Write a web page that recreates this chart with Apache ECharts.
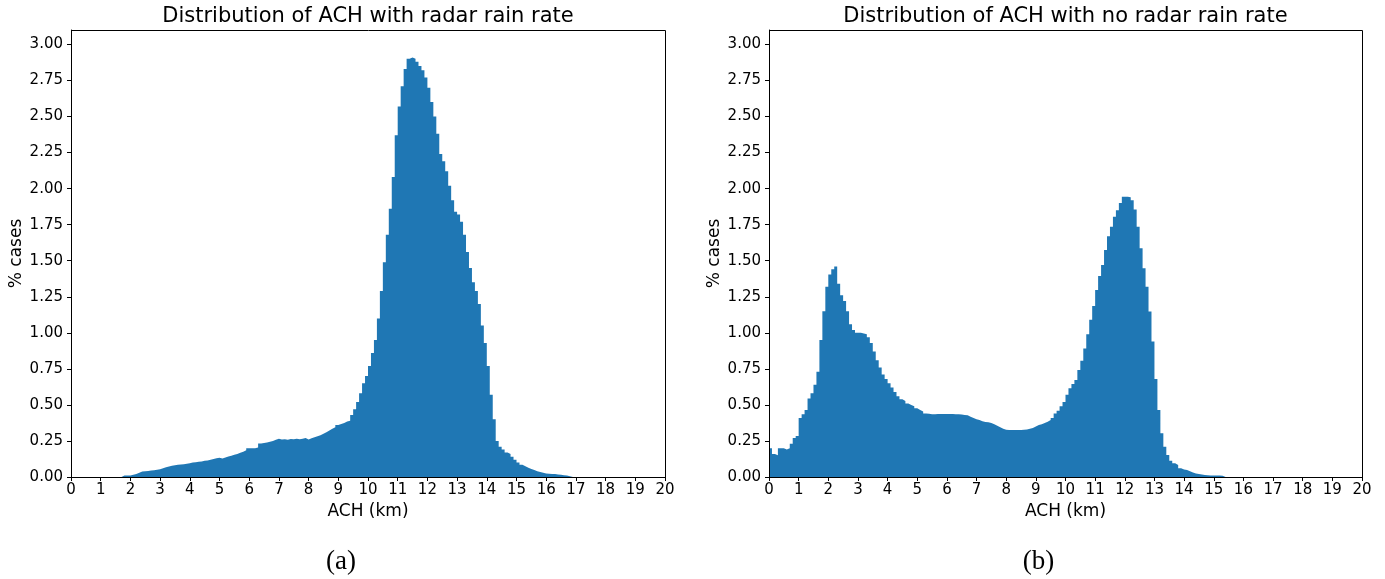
<!DOCTYPE html>
<html>
<head>
<meta charset="utf-8">
<title>ACH distribution</title>
<script src="https://cdn.jsdelivr.net/npm/echarts@6/dist/echarts.min.js"></script>
<style>
  html, body { margin: 0; padding: 0; background: #fff; }
  #chart { width: 1385px; height: 579px; }
</style>
</head>
<body>
<div id="chart"></div>
<script>
// bin width 0.1 km, 200 bins from 0 to 20 km, values in % cases
const binWidth = 0.1;

const withRadar = [
  0, 0, 0, 0, 0, 0, 0, 0, 0, 0,                                            // 0-1
  0, 0, 0, 0, 0, 0, 0, 0.01, 0.01, 0.01,                                   // 1-2
  0.015, 0.02, 0.03, 0.038, 0.04, 0.042, 0.045, 0.047, 0.05, 0.053,        // 2-3
  0.06, 0.068, 0.072, 0.078, 0.082, 0.085, 0.087, 0.089, 0.092, 0.096,     // 3-4
  0.1, 0.102, 0.105, 0.108, 0.112, 0.115, 0.12, 0.124, 0.13, 0.133,        // 4-5
  0.128, 0.135, 0.142, 0.148, 0.155, 0.16, 0.168, 0.175, 0.185, 0.2,       // 5-6
  0.2, 0.2, 0.205, 0.232, 0.236, 0.24, 0.245, 0.25, 0.258, 0.265,          // 6-7
  0.26, 0.262, 0.258, 0.264, 0.262, 0.265, 0.262, 0.266, 0.27, 0.26,       // 7-8
  0.268, 0.275, 0.282, 0.29, 0.3, 0.31, 0.322, 0.335, 0.345, 0.36,         // 8-9
  0.368, 0.375, 0.385, 0.39, 0.43, 0.47, 0.52, 0.58, 0.65, 0.7,            // 9-10
  0.77, 0.86, 0.95, 1.1, 1.29, 1.49, 1.68, 1.86, 2.08, 2.37,               // 10-11
  2.57, 2.71, 2.83, 2.9, 2.91, 2.9, 2.88, 2.85, 2.82, 2.77,                // 11-12
  2.7, 2.6, 2.5, 2.38, 2.24, 2.19, 2.12, 2.02, 1.92, 1.84,                 // 12-13
  1.82, 1.77, 1.68, 1.56, 1.45, 1.35, 1.29, 1.2, 1.05, 0.93,               // 13-14
  0.77, 0.57, 0.4, 0.25, 0.21, 0.19, 0.17, 0.16, 0.14, 0.12,               // 14-15
  0.1, 0.085, 0.075, 0.065, 0.055, 0.048, 0.04, 0.035, 0.03, 0.025,        // 15-16
  0.022, 0.02, 0.02, 0.018, 0.015, 0.012, 0.01, 0.005, 0, 0,               // 16-17
  0, 0, 0, 0, 0, 0, 0, 0, 0, 0,                                            // 17-18
  0, 0, 0, 0, 0, 0, 0, 0, 0, 0,                                            // 18-19
  0, 0, 0, 0, 0, 0, 0, 0, 0, 0                                             // 19-20
];

const noRadar = [
  0.2, 0.16, 0.15, 0.2, 0.2, 0.19, 0.2, 0.23, 0.27, 0.285,                 // 0-1
  0.41, 0.435, 0.465, 0.545, 0.58, 0.64, 0.73, 0.95, 1.15, 1.32,           // 1-2
  1.405, 1.44, 1.46, 1.34, 1.26, 1.22, 1.15, 1.06, 1.02, 1.0,              // 2-3
  1.0, 0.995, 0.99, 0.97, 0.93, 0.87, 0.81, 0.76, 0.71, 0.68,              // 3-4
  0.65, 0.62, 0.59, 0.56, 0.54, 0.527, 0.51, 0.5, 0.49, 0.476,             // 4-5
  0.465, 0.455, 0.44, 0.438, 0.435, 0.435, 0.437, 0.437, 0.437, 0.437,     // 5-6
  0.437, 0.437, 0.436, 0.435, 0.434, 0.43, 0.428, 0.418, 0.41, 0.4,        // 6-7
  0.395, 0.386, 0.382, 0.38, 0.375, 0.365, 0.355, 0.345, 0.335, 0.328,     // 7-8
  0.326, 0.326, 0.326, 0.326, 0.326, 0.328, 0.33, 0.335, 0.34, 0.35,       // 8-9
  0.36, 0.365, 0.375, 0.383, 0.395, 0.41, 0.44, 0.46, 0.49, 0.52,          // 9-10
  0.57, 0.615, 0.645, 0.673, 0.742, 0.807, 0.892, 0.99, 1.09, 1.186,       // 10-11
  1.297, 1.394, 1.47, 1.574, 1.67, 1.736, 1.805, 1.85, 1.9, 1.944,         // 11-12
  1.944, 1.94, 1.92, 1.856, 1.736, 1.586, 1.447, 1.32, 1.147, 0.94,        // 12-13
  0.68, 0.465, 0.303, 0.21, 0.153, 0.113, 0.095, 0.083, 0.06, 0.052,       // 13-14
  0.048, 0.04, 0.032, 0.025, 0.02, 0.017, 0.014, 0.012, 0.01, 0.01,        // 14-15
  0.01, 0.01, 0.008, 0, 0, 0, 0, 0, 0, 0,                                  // 15-16
  0, 0, 0, 0, 0, 0, 0, 0, 0, 0,                                            // 16-17
  0, 0, 0, 0, 0, 0, 0, 0, 0, 0,                                            // 17-18
  0, 0, 0, 0, 0, 0, 0, 0, 0, 0,                                            // 18-19
  0, 0, 0, 0, 0, 0, 0, 0, 0, 0                                             // 19-20
];

const xTicks = [0, 1, 2, 3, 4, 5, 6, 7, 8, 9, 10, 11, 12, 13, 14, 15, 16, 17, 18, 19, 20];
const yTicks = [0, 0.25, 0.5, 0.75, 1.0, 1.25, 1.5, 1.75, 2.0, 2.25, 2.5, 2.75, 3.0];

const titles = ['Distribution of ACH with radar rain rate', 'Distribution of ACH with no radar rain rate'];
const captions = ['(a)', '(b)'];

const FONT = '"DejaVu Sans", sans-serif';
const BLUE = '#1f77b4';

// step points: each bin starts at its left edge, last point closes the final bin
function toSteps(vals) {
  const pts = vals.map((v, i) => [i * binWidth, v]);
  pts.push([vals.length * binWidth, vals[vals.length - 1]]);
  return pts;
}

const grids = [
  { left: 71, top: 30, width: 594, height: 447 },
  { left: 769, top: 30, width: 593, height: 447 }
];

function xAxis(gi) {
  return {
    type: 'value', gridIndex: gi, min: 0, max: 20, interval: 1,
    axisLine: { show: true, onZero: false, lineStyle: { color: '#000', width: 1 } },
    axisTick: { show: true, length: 4, lineStyle: { color: '#000' } },
    axisLabel: { color: '#000', fontSize: 15, fontFamily: FONT, margin: 6,
                 customValues: xTicks },
    splitLine: { show: false }
  };
}
function yAxis(gi) {
  return {
    type: 'value', gridIndex: gi, min: 0, max: 3.1,
    axisLine: { show: true, lineStyle: { color: '#000', width: 1 } },
    axisTick: { show: true, length: 4, lineStyle: { color: '#000' }, customValues: yTicks },
    axisLabel: { color: '#000', fontSize: 15, fontFamily: FONT, margin: 8,
                 customValues: yTicks, formatter: v => v.toFixed(2) },
    splitLine: { show: false }
  };
}

const graphics = [];
grids.forEach((g, i) => {
  const cx = g.left + g.width / 2;
  graphics.push({ type: 'text', x: cx, y: 17,
    style: { text: titles[i], font: '21px ' + FONT, fill: '#000', textAlign: 'center', textVerticalAlign: 'middle' } });
  graphics.push({ type: 'text', x: cx, y: 512,
    style: { text: 'ACH (km)', font: '17px ' + FONT, fill: '#000', textAlign: 'center', textVerticalAlign: 'middle' } });
  graphics.push({ type: 'text', x: g.left - 54, y: g.top + g.height / 2, rotation: Math.PI / 2,
    style: { text: '% cases', font: '17px ' + FONT, fill: '#000', textAlign: 'center', textVerticalAlign: 'middle' } });
  graphics.push({ type: 'text', x: cx - 27, y: 562,
    style: { text: captions[i], font: '27px "Liberation Serif", serif', fill: '#000', textAlign: 'center', textVerticalAlign: 'middle' } });
  // frame (matplotlib spines)
  graphics.push({ type: 'rect', z: 100, silent: true,
    shape: { x: g.left + 0.5, y: g.top + 0.5, width: g.width, height: g.height },
    style: { fill: null, stroke: '#000', lineWidth: 1 } });
});

const chart = echarts.init(document.getElementById('chart'), null, { renderer: 'canvas' });
chart.setOption({
  animation: false,
  backgroundColor: '#fff',
  grid: grids,
  xAxis: [xAxis(0), xAxis(1)],
  yAxis: [yAxis(0), yAxis(1)],
  graphic: graphics,
  series: [withRadar, noRadar].map((vals, i) => ({
    type: 'line', xAxisIndex: i, yAxisIndex: i,
    step: 'end', symbol: 'none',
    lineStyle: { width: 0 },
    areaStyle: { color: BLUE, opacity: 1 },
    data: toSteps(vals)
  }))
});
</script>
</body>
</html>
